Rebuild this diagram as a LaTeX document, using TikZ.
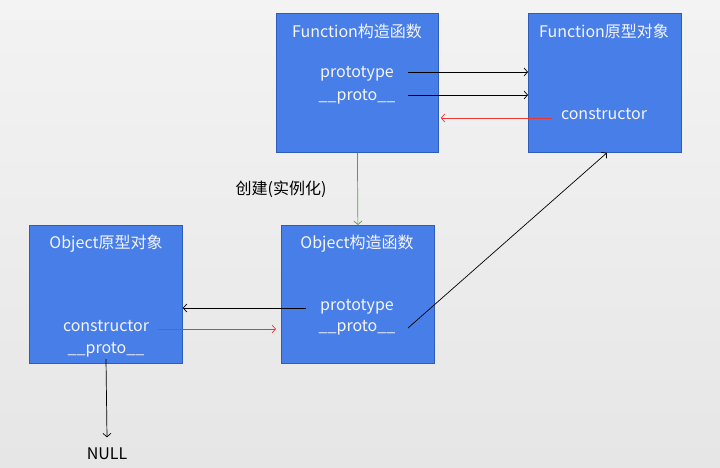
\documentclass[tikz,border=0pt]{standalone}
\usepackage{fontspec}
\setmainfont{Noto Sans CJK SC}
\usetikzlibrary{arrows.meta}
\definecolor{boxfill}{RGB}{72,126,232}
\definecolor{boxline}{RGB}{48,92,185}
\definecolor{bgtop}{RGB}{243,243,243}
\definecolor{bgbot}{RGB}{230,230,230}
\definecolor{redarr}{RGB}{235,55,55}
\definecolor{greenarr}{RGB}{80,160,80}
\definecolor{txt}{RGB}{245,245,250}
\tikzset{
  box/.style={draw=boxline, line width=0.8pt, fill=boxfill, anchor=north west, inner sep=0pt},
  lbl/.style={text=txt, font=\fontsize{16}{18}\selectfont, inner sep=0pt, yshift=-1.5pt},
  plain/.style={text=black, font=\fontsize{16}{18}\selectfont, inner sep=0pt, yshift=-1.5pt},
  arr/.style={-{Straight Barb[length=3.5pt,width=8pt]}, line width=0.7pt},
}
\begin{document}
\begin{tikzpicture}[x=1pt,y=-1pt]
\shade[top color=bgtop, bottom color=bgbot] (0,0) rectangle (720,467);
\useasboundingbox (0,0) rectangle (720,467);
% boxes
\node[box, minimum width=162pt, minimum height=139pt] (fc) at (276,13) {};
\node[box, minimum width=153pt, minimum height=139pt] (fp) at (528,13) {};
\node[box, minimum width=153pt, minimum height=138pt] (op) at (29,225) {};
\node[box, minimum width=153pt, minimum height=138pt] (oc) at (281,225) {};
% texts
\node[lbl] (fct) at (357,30) {Function构造函数};
\node[lbl] (fcp) at (357,72) {prototype};
\node[lbl] (fcq) at (357,95) {\_\_proto\_\_};
\node[lbl] (fpt) at (604,30) {Function原型对象};
\node[lbl] (fpc) at (604,113) {constructor};
\node[lbl] (opt) at (106,242) {Object原型对象};
\node[lbl] (opc) at (106,325) {constructor};
\node[lbl] (opq) at (106,348) {\_\_proto\_\_};
\node[lbl] (oct) at (357,242) {Object构造函数};
\node[lbl] (ocp) at (357,305) {prototype};
\node[lbl] (ocq) at (357,326) {\_\_proto\_\_};
\node[plain] (cre) at (281,188) {创建(实例化)};
\node[plain] (null) at (107,452) {NULL};
% arrows
\draw[arr] (408,72) coordinate (a1) -- (a1 -| fp.west);
\draw[arr] (408,95) coordinate (a2) -- (a2 -| fp.west);
\draw[arr, redarr] (552,118) coordinate (a3) -- ([xshift=2pt]a3 -| fc.east);
\draw[arr, greenarr] (fc.south) -- (oc.north);
\draw[arr] (306,308) coordinate (a4) -- (a4 -| op.east);
\draw[arr, redarr] (158,329) coordinate (a5) -- ([xshift=-5pt]a5 -| oc.west);
\draw[arr] (408,328) coordinate (a6) -- ([xshift=2pt]fp.south);
\draw[arr] ([yshift=-2pt]opq.south) -- ([yshift=10pt]null.north);
\end{tikzpicture}
\end{document}
